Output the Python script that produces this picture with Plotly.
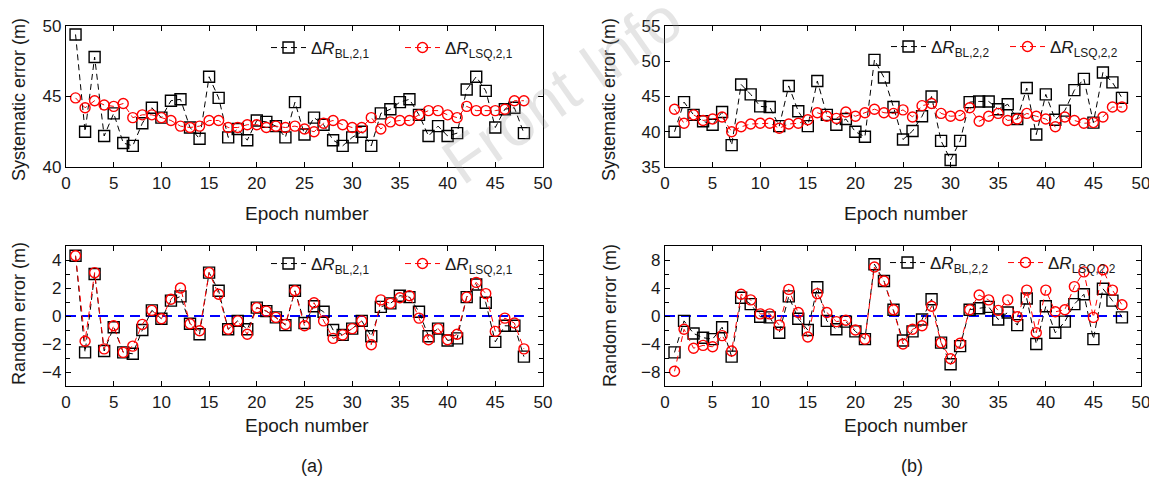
import plotly.graph_objects as go

W, H = 1157, 479
OFF = 8  # page body margin of the browser
FW, FH = W - OFF, H - OFF

epochs = list(range(1, 49))
zero_x = [0, 48]
zero_y = [0, 0]

sys_bl_21 = [49.4, 42.5, 47.8, 42.2, 43.8, 41.7, 41.5, 43.1, 44.2, 43.5, 44.7, 44.8, 42.8, 42.0, 46.4, 44.9,
             42.1, 42.7, 41.9, 43.3, 43.2, 42.9, 42.1, 44.6, 42.3, 43.5, 43.0, 41.9, 41.5, 42.1, 42.5, 41.5,
             43.8, 44.1, 44.6, 44.8, 43.7, 42.2, 42.9, 42.2, 42.4, 45.5, 46.4, 45.4, 42.8, 44.1, 44.2, 42.4]
sys_lsq_21 = [44.9, 44.2, 44.7, 44.4, 44.3, 44.5, 43.5, 43.7, 43.7, 43.5, 43.3, 42.9, 42.8, 42.9, 43.3, 43.3,
              42.8, 42.8, 43.0, 43.0, 42.8, 42.9, 42.8, 42.9, 42.7, 42.5, 43.1, 43.3, 43.0, 42.8, 42.8, 43.5,
              42.7, 43.2, 43.3, 43.3, 43.7, 44.0, 44.0, 43.7, 43.5, 44.3, 44.0, 44.0, 44.0, 44.1, 44.7, 44.7]
rand_bl_21 = [4.3, -2.6, 3.0, -2.5, -0.8, -2.6, -2.7, -1.0, 0.4, -0.2, 1.1, 1.4, -0.55, -1.3, 3.1, 1.8,
              -0.95, -0.35, -0.95, 0.6, 0.35, -0.1, -0.65, 1.8, -0.5, 0.7, 0.3, -1.0, -1.35, -0.9, -0.35, -1.45,
              0.65, 0.9, 1.45, 1.35, 0.3, -1.45, -0.9, -1.75, -1.6, 1.35, 2.25, 0.95, -1.85, -0.7, -0.7, -2.9]
rand_lsq_21 = [4.3, -1.8, 3.1, -2.35, -0.7, -2.6, -2.15, -0.6, 0.4, -0.2, 1.2, 2.0, -0.55, -1.05, 3.1, 1.55,
               -0.95, -0.35, -1.3, 0.6, 0.35, -0.1, -0.6, 1.8, -0.7, 0.95, -0.35, -1.6, -1.35, -0.9, -0.35, -2.05,
               1.15, 0.9, 1.3, 1.45, -0.15, -1.7, -0.9, -1.7, -1.3, 1.35, 2.4, 1.6, -1.1, -0.15, -0.5, -2.35]

sys_bl_22 = [40.0, 44.2, 42.4, 41.5, 41.0, 42.8, 38.1, 46.7, 45.3, 43.6, 43.5, 40.8, 46.5, 42.9, 40.8, 47.2,
             42.4, 41.0, 41.8, 40.0, 39.3, 50.2, 47.7, 43.5, 38.9, 40.1, 42.2, 45.0, 38.7, 36.0, 38.7, 44.2,
             44.3, 44.3, 43.2, 43.9, 41.8, 46.2, 39.6, 45.3, 41.7, 43.0, 45.9, 47.5, 41.3, 48.4, 47.0, 44.8]
sys_lsq_22 = [43.2, 41.2, 42.4, 41.6, 41.8, 42.1, 40.0, 40.7, 41.1, 41.2, 41.2, 40.5, 41.1, 41.2, 41.7, 42.7,
              42.2, 41.9, 42.8, 42.2, 42.7, 43.2, 42.7, 42.6, 43.1, 42.1, 43.7, 44.0, 42.6, 42.2, 42.3, 43.4,
              41.5, 42.2, 42.6, 41.6, 41.8, 42.6, 42.2, 41.8, 40.7, 42.1, 41.6, 41.2, 41.3, 42.1, 43.5, 43.5]
rand_bl_22 = [-5.2, -0.7, -2.5, -3.1, -3.3, -1.6, -5.8, 2.6, 1.7, -0.1, -0.2, -2.4, 2.8, -0.4, -2.0, 4.1,
              -0.7, -1.9, -0.8, -2.2, -3.3, 7.4, 5.0, 0.9, -3.5, -2.2, -0.5, 2.4, -3.8, -6.9, -4.3, 0.9,
              1.1, 1.3, -0.5, 0.5, -1.3, 2.5, -4.0, 1.4, -2.4, -0.8, 1.7, 3.1, -3.3, 3.9, 2.2, -0.2]
rand_lsq_22 = [-7.9, -1.9, -4.6, -4.2, -4.4, -2.8, -5.0, 3.1, 2.3, 0.3, 0.3, -1.3, 3.8, 0.5, -3.0, 3.2,
               0.5, -0.8, -0.6, -2.0, -3.3, 7.0, 5.0, 0.9, -4.0, -1.9, -1.4, 1.4, -3.8, -6.1, -3.9, 0.9,
               3.0, 2.3, 0.8, 2.3, -0.1, 3.7, -2.4, 3.7, 0.6, 0.9, 4.2, 6.3, -0.2, 6.6, 3.7, 1.6]

FONT = "Arial, 'Liberation Sans', sans-serif"
TXT = "#1a1a1a"

def px_x(p):
    return (p - OFF) / FW

def px_y(p):
    return 1 - (p - OFF) / FH

# domains (page pixels): left box 66-543, right box 665-1141; top 26-167, bottom 246-386
dom_xl = [px_x(66), px_x(543)]
dom_xr = [px_x(665), px_x(1141)]
dom_yt = [px_y(167), px_y(26)]
dom_yb = [px_y(386), px_y(246)]

fig = go.Figure()

panels = [
    ("x", "y", "legend", sys_bl_21, sys_lsq_21, "2,1", False),
    ("x2", "y2", "legend2", sys_bl_22, sys_lsq_22, "2,2", False),
    ("x3", "y3", "legend3", rand_bl_21, rand_lsq_21, "2,1", True),
    ("x4", "y4", "legend4", rand_bl_22, rand_lsq_22, "2,2", True),
]

for xa, ya, lg, bl, lsq, sub, zero in panels:
    if zero:
        fig.add_trace(go.Scatter(x=zero_x, y=zero_y, mode="lines", xaxis=xa, yaxis=ya,
                                 line=dict(color="#0000ff", width=2, dash="10px,6px"),
                                 showlegend=False, hoverinfo="skip"))
    fig.add_trace(go.Scatter(
        x=epochs, y=bl, mode="lines+markers", xaxis=xa, yaxis=ya, legend=lg,
        name="Δ<i>R</i><sub>BL," + sub + "</sub>",
        line=dict(color="black", width=1, dash="6px,4px"),
        marker=dict(symbol="square-open", size=11, color="black", line=dict(width=1.4, color="black")),
    ))
    fig.add_trace(go.Scatter(
        x=epochs, y=lsq, mode="lines+markers", xaxis=xa, yaxis=ya, legend=lg,
        name="Δ<i>R</i><sub>LSQ," + sub + "</sub>",
        line=dict(color="#ff0000", width=1, dash="6px,4px"),
        marker=dict(symbol="circle-open", size=10, color="#ff0000", line=dict(width=1.4, color="#ff0000")),
    ))

axis_common = dict(showline=True, linecolor="black", linewidth=1.2, mirror="allticks",
                   ticks="inside", ticklen=5, tickcolor="black", showgrid=False, zeroline=False,
                   automargin=False, tickfont=dict(family=FONT, size=17, color=TXT))

xcommon = dict(axis_common, range=[0, 50], tickmode="array", tickvals=list(range(0, 51, 5)))

layout = dict(
    width=FW, height=FH,
    margin=dict(l=0, r=0, t=0, b=0, autoexpand=False),
    paper_bgcolor="white", plot_bgcolor="white",
    font=dict(family=FONT, size=18, color=TXT),
    xaxis=dict(xcommon, domain=dom_xl, anchor="y"),
    yaxis=dict(axis_common, domain=dom_yt, anchor="x", range=[40, 50], tickvals=[40, 45, 50]),
    xaxis2=dict(xcommon, domain=dom_xr, anchor="y2"),
    yaxis2=dict(axis_common, domain=dom_yt, anchor="x2", range=[35, 55], tickvals=[35, 40, 45, 50, 55]),
    xaxis3=dict(xcommon, domain=dom_xl, anchor="y3"),
    yaxis3=dict(axis_common, domain=dom_yb, anchor="x3", range=[-5, 5], tickvals=[-4, -2, 0, 2, 4],
                ticktext=["\u22124", "\u22122", "0", "2", "4"],
                minor=dict(tickvals=[-5, -3, -1, 1, 3, 5], ticks="inside", ticklen=4, tickcolor="black")),
    xaxis4=dict(xcommon, domain=dom_xr, anchor="y4"),
    yaxis4=dict(axis_common, domain=dom_yb, anchor="x4", range=[-10, 10], tickvals=[-8, -4, 0, 4, 8],
                ticktext=["\u22128", "\u22124", "0", "4", "8"],
                minor=dict(tickvals=[-10, -6, -2, 2, 6, 10], ticks="inside", ticklen=4, tickcolor="black")),
)

def leg(xp, yp, ew):
    return dict(x=px_x(xp), y=px_y(yp), xanchor="left", yanchor="middle", orientation="h",
                bgcolor="rgba(0,0,0,0)", font=dict(family=FONT, size=17, color=TXT),
                itemwidth=35, tracegroupgap=0, entrywidth=ew, entrywidthmode="pixels")

layout["legend"] = leg(266, 48, 84)
layout["legend2"] = leg(886, 47, 69)
layout["legend3"] = leg(266, 264, 84)
layout["legend4"] = leg(885, 263, 68)

fig.update_layout(**layout)

annots = [
    dict(text="Systematic error (m)", x=px_x(19), y=px_y(100), textangle=-90, size=18),
    dict(text="Systematic error (m)", x=px_x(609), y=px_y(100), textangle=-90, size=18),
    dict(text="Random error (m)", x=px_x(19), y=px_y(314), textangle=-90, size=18),
    dict(text="Random error (m)", x=px_x(610), y=px_y(316), textangle=-90, size=18),
    dict(text="Epoch number", x=px_x(307), y=px_y(213), size=19),
    dict(text="Epoch number", x=px_x(906), y=px_y(213), size=19),
    dict(text="Epoch number", x=px_x(307), y=px_y(425), size=19),
    dict(text="Epoch number", x=px_x(906), y=px_y(425), size=19),
    dict(text="(a)", x=px_x(312), y=px_y(466), size=18),
    dict(text="(b)", x=px_x(912), y=px_y(466), size=18),
]
for a in annots:
    sz = a.pop("size")
    fig.add_annotation(xref="paper", yref="paper", showarrow=False, xanchor="center", yanchor="middle",
                       font=dict(family=FONT, size=sz, color=TXT), **a)

# light watermark
fig.add_annotation(xref="paper", yref="paper", showarrow=False, text="Front Info",
                   x=px_x(562), y=px_y(90), xanchor="center", yanchor="middle", textangle=-35,
                   font=dict(family=FONT, size=64, color="rgba(150,150,150,0.25)"))

fig.write_html("out.html")
